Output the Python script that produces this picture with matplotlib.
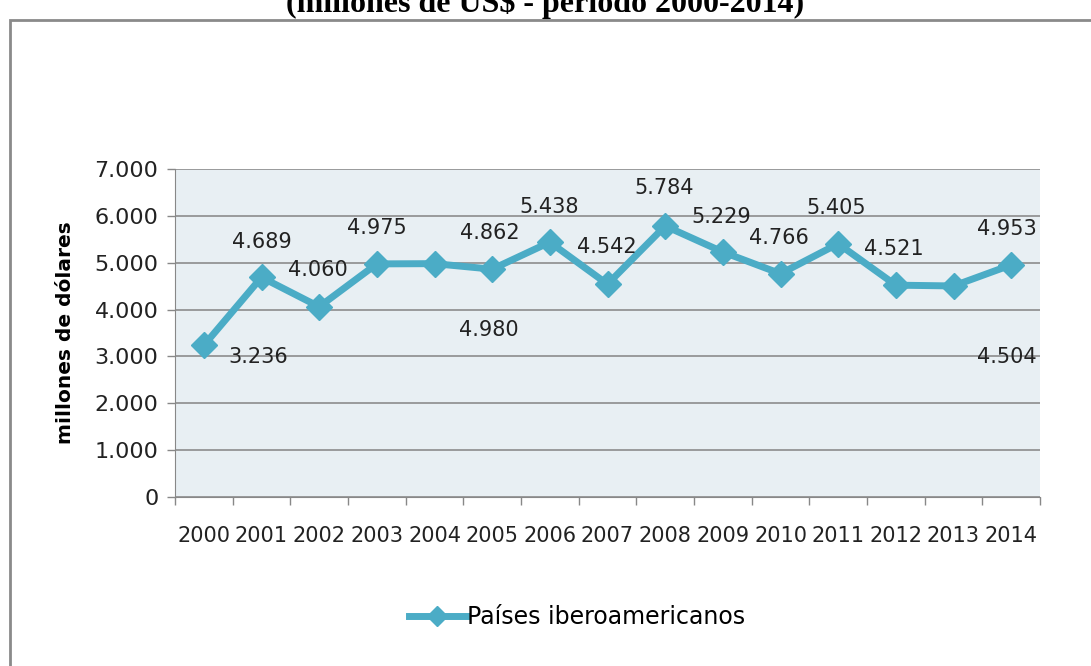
import matplotlib.pyplot as plt
from matplotlib.patches import Rectangle

years = list(range(2000, 2015))
values = [3236, 4689, 4060, 4975, 4980, 4862, 5438, 4542, 5784, 5229, 4766, 5405, 4521, 4504, 4953]
# data label texts and where they were placed in the original chart (x index, y value)
label_texts = ["3.236", "4.689", "4.060", "4.975", "4.980", "4.862", "5.438", "4.542",
               "5.784", "5.229", "4.766", "5.405", "4.521", "4.504", "4.953"]
label_x = [0.94, 1.0, 1.98, 3.0, 4.94, 4.96, 5.98, 6.98, 7.99, 8.98, 9.98, 10.97, 11.97, 13.93, 13.93]
label_y = [2990, 5440, 4840, 5740, 3560, 5630, 6180, 5330, 6590, 5980, 5530, 6170, 5290, 2990, 5720]
yticks = list(range(0, 7001, 1000))
ytick_labels = ["0", "1.000", "2.000", "3.000", "4.000", "5.000", "6.000", "7.000"]

color = "#4BACC6"
font = "DejaVu Sans"

fig = plt.figure(figsize=(10.91, 6.66), dpi=100)
ax = fig.add_axes([175 / 1091, 1 - 497 / 666, 865 / 1091, 328 / 666])
ax.set_facecolor("#E8EFF3")

x = list(range(len(years)))
ax.plot(x, values, color=color, lw=5, marker="D", markersize=13,
        markeredgecolor=color, label="Países iberoamericanos", zorder=3)

for t, lx, ly in zip(label_texts, label_x, label_y):
    ax.text(lx, ly, t, ha="center", va="center", fontsize=15, color="#222222",
            family=font, zorder=4)

ax.set_xlim(-0.5, len(years) - 0.5)
ax.set_ylim(0, 7000)
ax.set_yticks(yticks)
ax.set_yticklabels(ytick_labels, fontsize=16, family=font, color="#222222")
ax.set_xticks(x)
ax.set_xticklabels([str(y) for y in years], fontsize=15, family=font, color="#222222")
ax.set_xticks([i - 0.5 for i in range(len(years) + 1)], minor=True)
ax.tick_params(axis="x", which="major", length=0, pad=21)
ax.tick_params(axis="x", which="minor", length=6, color="#888888", width=1)
ax.tick_params(axis="y", length=6, color="#888888", width=1, pad=6)
ax.grid(axis="y", color="#8c8c8c", lw=1.2)
ax.set_axisbelow(True)
for s in ["top", "right"]:
    ax.spines[s].set_visible(False)
ax.spines["left"].set_color("#888888")
ax.spines["bottom"].set_color("#888888")

ax.set_ylabel("millones de dólares", fontsize=14.5, fontweight="bold", family=font, labelpad=14)

leg = ax.legend(loc="center", bbox_to_anchor=(577 / 1091, 1 - 617 / 666),
                bbox_transform=fig.transFigure, frameon=False, markerscale=0.75,
                handlelength=2.4, handletextpad=0.05, prop={"family": font, "size": 17})

fig.text(0.5, 1 - 4 / 666, "(millones de US$ - período 2000-2014)", ha="center", va="center",
         fontsize=23, fontweight="bold", family="Liberation Serif")

fig.patches.append(Rectangle((10 / 1091, -0.1), 1.2, 1.1 - 20 / 666, transform=fig.transFigure,
                             fill=False, edgecolor="#8a8a8a", lw=2))

fig.savefig("out.png", dpi=100)
